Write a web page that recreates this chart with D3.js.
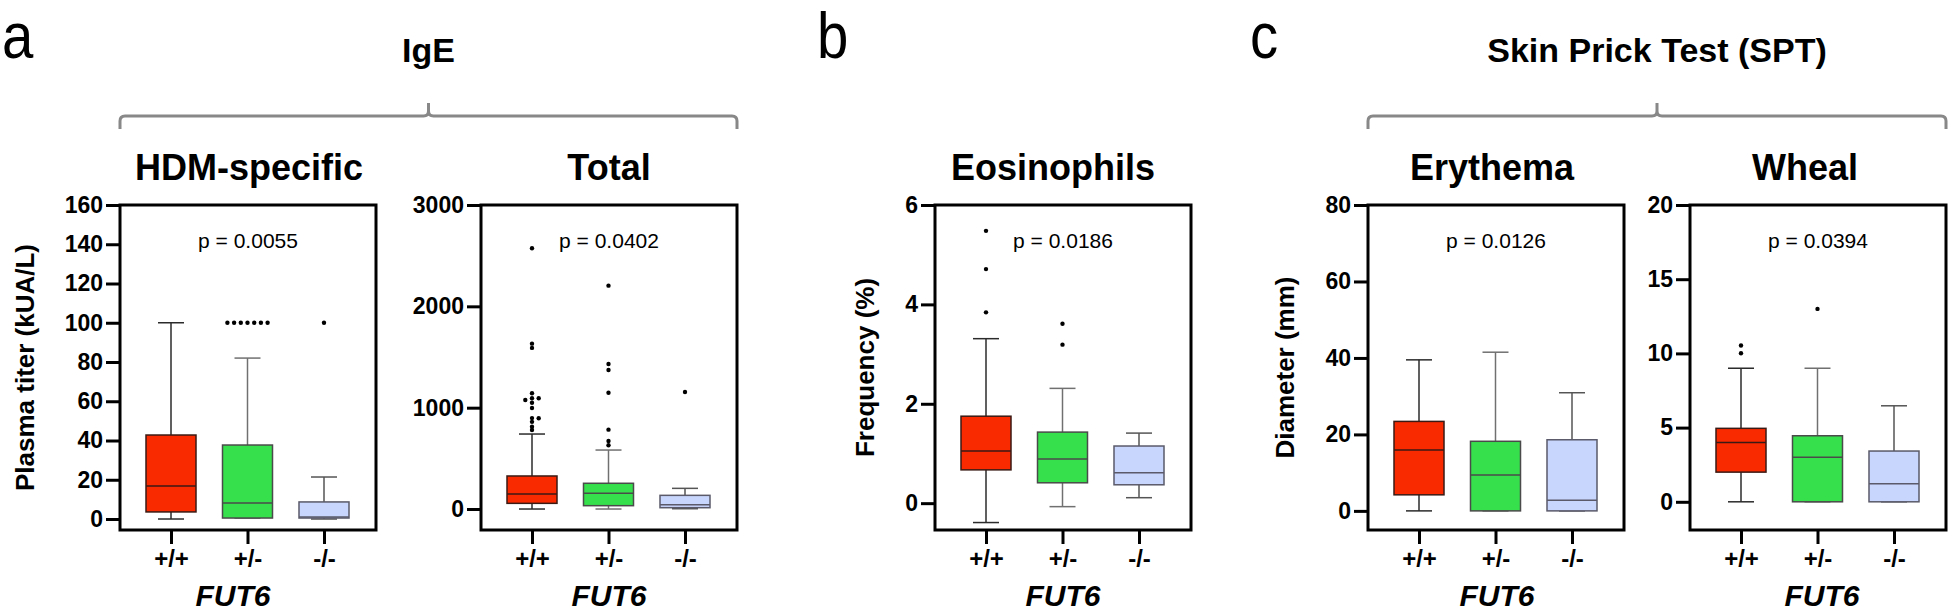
<!DOCTYPE html>
<html>
<head>
<meta charset="utf-8">
<script src="https://cdn.jsdelivr.net/npm/d3@7"></script>
<style>
    body { margin: 0; background: #fff; }
    text { font-family: "Liberation Sans", Arial, Helvetica, sans-serif; }
</style>
</head>
<body>
<div id="chart"></div>
<script>
"use strict";

// Genotype groups (x categories)
var genotypes = ["+/+", "+/-", "-/-"];

// IgE HDM-specific (kUA/L): whisker low, Q1, median, Q3, whisker high
var hdmLow = [0, 0.5, 0];
var hdmQ1 = [3.6, 0.5, 0.5];
var hdmMedian = [16.8, 8.2, 1.0];
var hdmQ3 = [42.8, 37.7, 8.7];
var hdmHigh = [100, 82, 21.4];
var hdmOutliers = [[], [100, 100, 100, 100, 100, 100, 100], [100]];
var hdmTicks = [0, 20, 40, 60, 80, 100, 120, 140, 160];

// IgE total
var totalLow = [0, 0, 3];
var totalQ1 = [56, 33, 13];
var totalMedian = [148, 155, 42];
var totalQ3 = [326, 254, 135];
var totalHigh = [740, 582, 204];
var totalOutliers = [
    [2573, 1632, 1590, 1142, 1093, 1093, 1076, 1049, 997, 897, 895, 860, 812, 780],
    [2204, 1431, 1372, 1148, 783, 671, 629],
    [1155]
];
var totalTicks = [0, 1000, 2000, 3000];

// Eosinophils (%)
var eosLow = [-0.39, -0.07, 0.11];
var eosQ1 = [0.67, 0.41, 0.37];
var eosMedian = [1.05, 0.89, 0.61];
var eosQ3 = [1.75, 1.43, 1.15];
var eosHigh = [3.31, 2.31, 1.41];
var eosOutliers = [[5.48, 4.71, 3.84], [3.61, 3.19], []];
var eosTicks = [0, 2, 4, 6];

// SPT erythema (mm)
var eryLow = [0, 0, 0];
var eryQ1 = [4.2, 0, 0];
var eryMedian = [15.9, 9.4, 2.8];
var eryQ3 = [23.4, 18.2, 18.6];
var eryHigh = [39.5, 41.5, 30.9];
var eryOutliers = [[], [], []];
var eryTicks = [0, 20, 40, 60, 80];

// SPT wheal (mm)
var whealLow = [0, 0, 0];
var whealQ1 = [2.0, 0, 0];
var whealMedian = [4.0, 3.0, 1.22];
var whealQ3 = [4.95, 4.45, 3.42];
var whealHigh = [9.0, 9.0, 6.47];
var whealOutliers = [[10.53, 10.01], [13.0], []];
var whealTicks = [0, 5, 10, 15, 20];

// Colours
var boxFill = ["#fa2a00", "#36e04c", "#c8d5fc"];
var boxStroke = ["#3a1a14", "#4a4a4a", "#5a5a6a"];
var whiskerStroke = ["#2b2b2b", "#707070", "#555555"];

// Layout
var WIDTH = 1949, HEIGHT = 615;
var FRAME_TOP = 205, FRAME_BOTTOM = 530, FRAME_W = 256;
var BOX_W = 50, CAP_W = 26, DOT_R = 2.2;

var panels = [
    {title: "HDM-specific", titleX: 249, geneX: 233, left: 120, yMin: -5.6, yMax: 160, ticks: hdmTicks,
     low: hdmLow, q1: hdmQ1, med: hdmMedian, q3: hdmQ3, high: hdmHigh, out: hdmOutliers,
     p: "p = 0.0055", yLabel: "Plasma titer (kUA/L)"},
    {title: "Total", titleX: 609, geneX: 609, left: 481, yMin: -207, yMax: 3000, ticks: totalTicks,
     low: totalLow, q1: totalQ1, med: totalMedian, q3: totalQ3, high: totalHigh, out: totalOutliers,
     p: "p = 0.0402", yLabel: null},
    {title: "Eosinophils", titleX: 1053, geneX: 1063, left: 935, yMin: -0.54, yMax: 6, ticks: eosTicks,
     low: eosLow, q1: eosQ1, med: eosMedian, q3: eosQ3, high: eosHigh, out: eosOutliers,
     p: "p = 0.0186", yLabel: "Frequency (%)"},
    {title: "Erythema", titleX: 1492, geneX: 1497, left: 1368, yMin: -5, yMax: 80, ticks: eryTicks,
     low: eryLow, q1: eryQ1, med: eryMedian, q3: eryQ3, high: eryHigh, out: eryOutliers,
     p: "p = 0.0126", yLabel: "Diameter (mm)"},
    {title: "Wheal", titleX: 1805, geneX: 1822, left: 1690, yMin: -1.9, yMax: 20, ticks: whealTicks,
     low: whealLow, q1: whealQ1, med: whealMedian, q3: whealQ3, high: whealHigh, out: whealOutliers,
     p: "p = 0.0394", yLabel: null}
];

var svg = d3.select("#chart").append("svg")
    .attr("width", WIDTH)
    .attr("height", HEIGHT);

// spread tied outliers sideways, like a column scatter
function swarm(values, yScale, step, thresh){
    var placed = [];
    values.slice().sort(function(a, b){ return b - a; }).forEach(function(v){
        var py = yScale(v);
        var near = placed.filter(function(p){ return Math.abs(p.py - py) < thresh; });
        var k = 0, off = 0;
        while(true){
            off = k === 0 ? 0 : (k % 2 === 1 ? 1 : -1) * Math.ceil(k / 2) * step;
            var taken = near.some(function(n){ return Math.abs(n.dx - off) < step / 2; });
            if(!taken) break;
            k++;
        }
        placed.push({v: v, py: py, dx: off});
    });
    return placed;
}

panels.forEach(function(pn){
    var g = svg.append("g");
    var right = pn.left + FRAME_W;
    var cx = (pn.left + right) / 2;

    var y = d3.scaleLinear().domain([pn.yMin, pn.yMax]).range([FRAME_BOTTOM, FRAME_TOP]);
    var x = d3.scalePoint().domain(genotypes).range([pn.left + 51, pn.left + 204]);

    // frame
    g.append("rect")
        .attr("x", pn.left).attr("y", FRAME_TOP)
        .attr("width", FRAME_W).attr("height", FRAME_BOTTOM - FRAME_TOP)
        .attr("fill", "none").attr("stroke", "#000").attr("stroke-width", 3);

    // y axis
    var yAxisG = g.append("g")
        .attr("transform", "translate(" + pn.left + ",0)")
        .call(d3.axisLeft(y).tickValues(pn.ticks).tickFormat(d3.format("d")).tickSize(14).tickPadding(3));
    yAxisG.select(".domain").remove();
    yAxisG.selectAll(".tick line").attr("stroke", "#000").attr("stroke-width", 3);
    yAxisG.selectAll(".tick text")
        .attr("fill", "#000")
        .style("font-size", "23px").style("font-weight", "bold");

    // x axis
    var xAxisG = g.append("g")
        .attr("transform", "translate(0," + FRAME_BOTTOM + ")")
        .call(d3.axisBottom(x).tickSize(14).tickPadding(6));
    xAxisG.select(".domain").remove();
    xAxisG.selectAll(".tick line").attr("stroke", "#000").attr("stroke-width", 3);
    xAxisG.selectAll(".tick text")
        .attr("fill", "#000")
        .style("font-size", "24px").style("font-weight", "bold");

    // boxes
    genotypes.forEach(function(gt, i){
        var bx = x(gt);
        var wc = whiskerStroke[i];
        // whisker stems
        g.append("line")
            .attr("x1", bx).attr("x2", bx)
            .attr("y1", y(pn.high[i])).attr("y2", y(pn.q3[i]))
            .attr("stroke", wc).attr("stroke-width", 1.5);
        g.append("line")
            .attr("x1", bx).attr("x2", bx)
            .attr("y1", y(pn.q1[i])).attr("y2", y(pn.low[i]))
            .attr("stroke", wc).attr("stroke-width", 1.5);
        // caps
        [pn.high[i], pn.low[i]].forEach(function(v){
            g.append("line")
                .attr("x1", bx - CAP_W / 2).attr("x2", bx + CAP_W / 2)
                .attr("y1", y(v)).attr("y2", y(v))
                .attr("stroke", wc).attr("stroke-width", 1.5);
        });
        // box
        g.append("rect")
            .attr("x", bx - BOX_W / 2)
            .attr("y", y(pn.q3[i]))
            .attr("width", BOX_W)
            .attr("height", Math.max(0.5, y(pn.q1[i]) - y(pn.q3[i])))
            .attr("fill", boxFill[i])
            .attr("stroke", boxStroke[i]).attr("stroke-width", 1.5);
        // median
        g.append("line")
            .attr("x1", bx - BOX_W / 2).attr("x2", bx + BOX_W / 2)
            .attr("y1", y(pn.med[i])).attr("y2", y(pn.med[i]))
            .attr("stroke", boxStroke[i]).attr("stroke-width", 1.5);
        // outliers
        g.selectAll(null)
            .data(swarm(pn.out[i], y, 6.7, 3))
            .enter().append("circle")
            .attr("cx", function(d){ return bx + d.dx; })
            .attr("cy", function(d){ return d.py; })
            .attr("r", DOT_R)
            .attr("fill", "#000");
    });

    // p value
    g.append("text")
        .attr("x", cx).attr("y", 248)
        .attr("text-anchor", "middle")
        .style("font-size", "21px")
        .text(pn.p);

    // panel title
    g.append("text")
        .attr("x", pn.titleX).attr("y", 180)
        .attr("text-anchor", "middle")
        .style("font-size", "36px").style("font-weight", "bold")
        .text(pn.title);

    // x axis label
    g.append("text")
        .attr("x", pn.geneX).attr("y", 606)
        .attr("text-anchor", "middle")
        .style("font-size", "30px").style("font-weight", "bold").style("font-style", "italic")
        .text("FUT6");

    // y axis label, placed from the width of the tick labels
    if(pn.yLabel){
        var bb = yAxisG.node().getBBox();
        var lx = pn.left + bb.x - 31;
        g.append("text")
            .attr("transform", "translate(" + lx + "," + ((FRAME_TOP + FRAME_BOTTOM) / 2) + ")rotate(-90)")
            .attr("text-anchor", "middle")
            .style("font-size", "26px").style("font-weight", "bold")
            .text(pn.yLabel);
    }
});

// Group brackets and headings
function bracket(x1, x2, title){
    var xc = (x1 + x2) / 2;
    var yH = 116, yEnd = 129, yTop = 103, r = 5;
    var path = "M" + x1 + "," + yEnd +
        " L" + x1 + "," + (yH + r) +
        " Q" + x1 + "," + yH + " " + (x1 + r) + "," + yH +
        " L" + (xc - r) + "," + yH +
        " Q" + xc + "," + yH + " " + xc + "," + (yH - r) +
        " L" + xc + "," + yTop +
        " M" + xc + "," + (yH - r) +
        " Q" + xc + "," + yH + " " + (xc + r) + "," + yH +
        " L" + (x2 - r) + "," + yH +
        " Q" + x2 + "," + yH + " " + x2 + "," + (yH + r) +
        " L" + x2 + "," + yEnd;
    svg.append("path")
        .attr("d", path)
        .attr("fill", "none")
        .attr("stroke", "#888")
        .attr("stroke-width", 3);
    svg.append("text")
        .attr("x", xc).attr("y", 62)
        .attr("text-anchor", "middle")
        .style("font-size", "34px").style("font-weight", "bold")
        .text(title);
}
bracket(panels[0].left, panels[1].left + FRAME_W, "IgE");
bracket(panels[3].left, panels[4].left + FRAME_W, "Skin Prick Test (SPT)");

// Panel letters (tall, narrow face as in the figure)
[["a", panels[0].left], ["b", panels[2].left], ["c", panels[3].left]].forEach(function(d){
    svg.append("text")
        .attr("transform", "translate(" + (d[1] - 118) + ",58)scale(0.88,1)")
        .style("font-size", "64px")
        .text(d[0]);
});
</script>
</body>
</html>
